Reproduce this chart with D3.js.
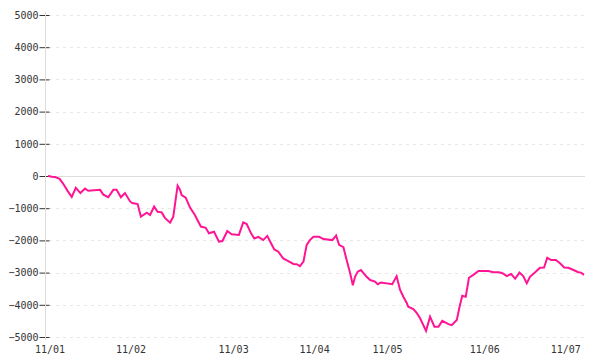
<!DOCTYPE html>
<html>
<head>
<meta charset="utf-8">
<script src="https://cdn.jsdelivr.net/npm/d3@7"></script>
<style>
  body { margin: 0; background: #fff; }
  svg text { font-family: "DejaVu Sans Mono", monospace; font-size: 10px; fill: #333; }
</style>
</head>
<body>
<svg id="chart" width="600" height="360"></svg>
<script>
// day labels and the sample index where each day starts
const dayLabels = ['11/01', '11/02', '11/03', '11/04', '11/05', '11/06', '11/07'];
const dayStarts = [0, 30, 68, 98, 125, 161, 191];

// y ticks
const yTicks = [5000, 4000, 3000, 2000, 1000, 0, -1000, -2000, -3000, -4000, -5000];

// series (sample index, value)
const sampleIndex = [
  0, 1.5, 2.6, 4.3, 5.7, 7.3, 8.8, 10.3, 12.0, 13.7, 14.9, 19.3, 20.5, 22.3, 24.2, 25.4,
  27.0, 28.5, 30.4, 31.2, 33.2, 34.4, 36.6, 37.8, 39.3, 40.6, 42.1, 43.3, 45.2, 46.4, 47.0,
  48.0, 48.9, 49.5, 51.0, 52.6, 54.4, 56.6, 58.4, 59.6, 61.5, 63.3, 64.6, 66.4, 68.0, 70.7,
  72.3, 73.6, 75.2, 76.4, 77.9, 79.7, 81.2, 82.6, 83.8, 85.3, 87.1, 89.0, 90.9, 92.1, 93.3,
  94.6, 95.8, 97.0, 98.3, 100.4, 102.0, 105.3, 106.7, 107.8, 109.4, 110.6, 111.9, 112.9,
  113.7, 114.7, 115.9, 118.0, 119.3, 121.1, 122.1, 123.3, 127.5, 129.1, 130.4, 131.6, 132.9,
  133.4, 135.3, 136.6, 137.8, 140.0, 141.5, 143.1, 144.6, 146.0, 148.3, 149.5, 151.4, 152.3,
  153.4, 154.7, 155.9, 157.5, 159.4, 163.1, 164.9, 167.0, 168.3, 169.9, 171.5, 173.0, 174.6,
  176.0, 177.3, 178.5, 180.4, 182.2, 183.7, 184.9, 186.3, 188.1, 189.6, 191.2, 192.7, 194.6,
  196.4, 197.4, 198.5
];
const sampleValue = [
  0, -20, -30, -90, -250, -470, -650, -370, -530, -390, -460, -430, -580, -660, -430, -430,
  -660, -530, -790, -840, -870, -1260, -1140, -1210, -950, -1110, -1130, -1300, -1450, -1260, -900,
  -300, -430, -590, -670, -980, -1210, -1570, -1610, -1780, -1730, -2040, -2020, -1710, -1810, -1830,
  -1440, -1490, -1780, -1940, -1890, -1990, -1860, -2090, -2280, -2350, -2560, -2640, -2730, -2740, -2800,
  -2660, -2140, -1990, -1890, -1890, -1960, -1990, -1850, -2140, -2210, -2610, -3020, -3390,
  -3130, -2970, -2920, -3130, -3230, -3280, -3360, -3310, -3360, -3110, -3540, -3750, -3950,
  -4060, -4130, -4260, -4420, -4810, -4370, -4680, -4680, -4500, -4600, -4630, -4470, -4110,
  -3720, -3750, -3160, -3070, -2950, -2950, -2990, -2990, -3020, -3110, -3040, -3190, -3000,
  -3110, -3330, -3130, -2990, -2850, -2840, -2540, -2610, -2610, -2710, -2840, -2850, -2920,
  -2990, -3000, -3070
];

const svg = d3.select('svg#chart');

const x = d3.scaleLinear().domain([0, 198.5]).range([48, 584]);
const y = d3.scaleLinear().domain([-5000, 5000]).range([337, 15]);
const axisX = 45;

// grid lines
svg.selectAll('line.grid').data(yTicks).enter()
  .append('line')
  .attr('class', 'grid')
  .attr('x1', axisX + 4)
  .attr('x2', 585)
  .attr('y1', d => Math.round(y(d)) + 0.5)
  .attr('y2', d => Math.round(y(d)) + 0.5)
  .attr('stroke', d => d === 0 ? '#dddddd' : '#e8e8e8')
  .attr('stroke-dasharray', d => d === 0 ? null : '3,4');

// y axis
const yAxis = d3.axisLeft(y)
  .tickValues(yTicks)
  .tickFormat(d3.format('d'))
  .tickSizeInner(6)
  .tickSizeOuter(0)
  .tickPadding(1);

const gy = svg.append('g')
  .attr('transform', `translate(${axisX + 0.5},0)`)
  .call(yAxis);
gy.select('.domain').remove();
gy.selectAll('.tick line').attr('x2', -6).attr('x1', 4).attr('stroke', '#333');
gy.selectAll('.tick text').attr('fill', '#333').attr('font-family', null).attr('font-size', null);

svg.append('line')
  .attr('x1', axisX + 0.5).attr('x2', axisX + 0.5)
  .attr('y1', 12).attr('y2', 340)
  .attr('stroke', '#dddddd');

// x labels
svg.selectAll('text.day').data(dayLabels).enter()
  .append('text')
  .attr('class', 'day')
  .attr('x', (d, i) => x(dayStarts[i]) + 2)
  .attr('y', 353)
  .attr('text-anchor', 'middle')
  .text(d => d);

// line
const points = sampleIndex.map((d, i) => [d, sampleValue[i]]);
const line = d3.line()
  .x(d => x(d[0]))
  .y(d => y(d[1]));

svg.append('path')
  .datum(points)
  .attr('fill', 'none')
  .attr('stroke', '#ff1493')
  .attr('stroke-width', 2)
  .attr('stroke-linejoin', 'miter')
  .attr('d', line);
</script>
</body>
</html>
